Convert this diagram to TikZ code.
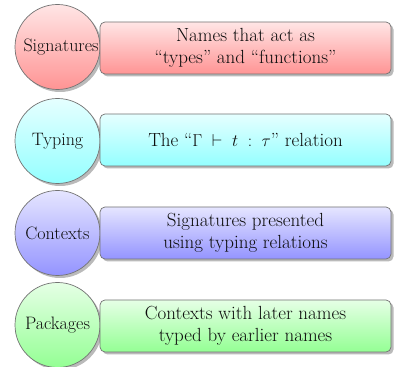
\documentclass[tikz,border=0pt]{standalone}
\usetikzlibrary{shadows}
\begin{document}
\begin{tikzpicture}[x=1pt,y=1pt,
  every node/.style={font=\fontsize{19}{22}\selectfont, text=black!95},
  circ/.style={circle, draw=black!55, line width=0.7pt, minimum size=85pt, inner sep=0pt,
    text width=68pt, align=center, font=\fontsize{18}{21}\selectfont,
    drop shadow={shadow xshift=2.5pt, shadow yshift=-2.5pt, opacity=0.45, fill=black!60}},
  boxx/.style={rectangle, rounded corners=5pt, draw=black!55, line width=0.7pt,
    minimum width=291pt, minimum height=52pt, align=center, inner sep=2pt,
    drop shadow={shadow xshift=2.5pt, shadow yshift=-2.5pt, opacity=0.45, fill=black!60}},
  shd/.style={top color=#1!10, bottom color=#1!42}]
\useasboundingbox (0,0) rectangle (398,366);
\node[circ, shd=red] (c1) at (57.5,319) {Signatures};
\node[boxx, shd=red] (b1) at (245.5,318) {Names that act as\\``types'' and ``functions''};
\node[circ, shd=cyan] (c2) at (57.5,225) {Typing};
\node[boxx, shd=cyan] (b2) at (245.5,226) {The ``$\Gamma \;\vdash\; t \;:\; \tau$'' relation};
\node[circ, shd=blue] (c3) at (57.5,133) {Contexts};
\node[boxx, shd=blue] (b3) at (245.5,133) {Signatures presented\\using typing relations};
\node[circ, shd=green] (c4) at (57.5,41) {Packages};
\node[boxx, shd=green] (b4) at (245.5,40) {Contexts with later names\\typed by earlier names};
\end{tikzpicture}
\end{document}
